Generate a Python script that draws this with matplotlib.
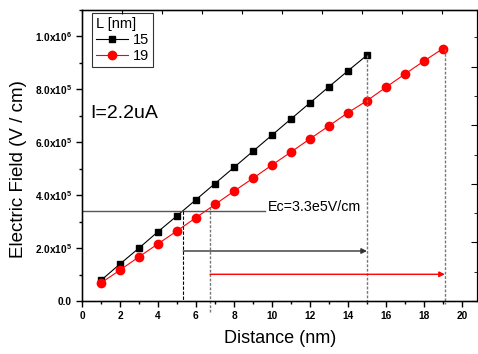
import matplotlib.pyplot as plt
import matplotlib.ticker as ticker
import numpy as np

plt.rcParams['font.family'] = ['Liberation Sans', 'DejaVu Sans']
plt.rcParams['mathtext.fontset'] = 'custom'
plt.rcParams['mathtext.rm'] = 'Liberation Sans:bold'
plt.rcParams['mathtext.default'] = 'rm'

# measured field vs distance, L = 15 nm
x15 = [1, 2, 3, 4, 5, 6, 7, 8, 9, 10, 11, 12, 13, 14, 15]
e15 = [0.078e6, 0.140e6, 0.200e6, 0.262e6, 0.322e6, 0.383e6, 0.444e6, 0.505e6,
       0.566e6, 0.627e6, 0.688e6, 0.749e6, 0.810e6, 0.870e6, 0.929e6]

# L = 19 nm
x19 = [1, 2, 3, 4, 5, 6, 7, 8, 9, 10, 11, 12, 13, 14, 15, 16, 17, 18, 19]
e19 = [0.068e6, 0.117e6, 0.167e6, 0.216e6, 0.265e6, 0.315e6, 0.365e6, 0.415e6,
       0.464e6, 0.514e6, 0.563e6, 0.613e6, 0.662e6, 0.712e6, 0.757e6, 0.808e6,
       0.858e6, 0.907e6, 0.954e6]

ec_level = 0.342e6     # Ec line
x_ec15 = 5.33          # crossing points
x_ec19 = 6.74
x_end15 = 15.0
x_end19 = 19.1

fig = plt.figure(figsize=(4.78, 3.54), dpi=100)
ax = fig.add_axes([82/478, 53/354, 395.5/478, 291/354])

ax.plot(x15, e15, color='k', lw=0.8, marker='s', ms=5, label='15')
ax.plot(x19, e19, color='r', lw=0.8, marker='o', ms=6, label='19')

# Ec line and text
ax.plot([0, 9.63], [ec_level, ec_level], color='#555555', lw=1)
ax.text(9.8, ec_level + 0.014e6, 'Ec=3.3e5V/cm', fontsize=10.3, va='center')

# drop lines
ax.plot([x_ec15, x_ec15], [ec_level, 0], color='k', ls=(0, (3, 1.5)), lw=0.8)
ax.plot([x_ec19, x_ec19], [0.356e6, -0.045e6], color='#777777', ls=(0, (2, 1.2)), lw=1, clip_on=False)
ax.plot([x_end15, x_end15], [e15[-1], -0.012e6], color='#777777', ls=(0, (2, 1.2)), lw=1, clip_on=False)
ax.plot([x_end19, x_end19], [e19[-1], -0.012e6], color='#777777', ls=(0, (2, 1.2)), lw=1, clip_on=False)

# arrows
ax.annotate('', xy=(x_end15, 0.189e6), xytext=(x_ec15, 0.189e6),
            arrowprops=dict(arrowstyle='-|>', color='#333333', lw=1, mutation_scale=8, shrinkA=0, shrinkB=0))
ax.annotate('', xy=(x_end19, 0.101e6), xytext=(x_ec19, 0.101e6),
            arrowprops=dict(arrowstyle='-|>', color='r', lw=1, mutation_scale=8, shrinkA=0, shrinkB=0))

ax.text(0.42, 0.71e6, 'I=2.2uA', fontsize=14, va='center')

ax.set_xlim(0, 20.82)
ax.set_ylim(0, 1.1e6)
ax.xaxis.set_major_locator(ticker.MultipleLocator(2))
ax.xaxis.set_minor_locator(ticker.MultipleLocator(1))
ax.yaxis.set_major_locator(ticker.MultipleLocator(0.2e6))
ax.yaxis.set_minor_locator(ticker.MultipleLocator(0.1e6))


def yfmt(v, pos):
    if v < 1:
        return '0.0'
    e = int(np.floor(np.log10(v)))
    return '%.1fx10$^{%d}$' % (v / 10**e, e)


ax.yaxis.set_major_formatter(ticker.FuncFormatter(yfmt))
ax.tick_params(which='major', direction='out', length=4, width=1, labelsize=7.3)
ax.tick_params(which='minor', direction='out', length=2.5, width=1)
for lab in ax.get_xticklabels() + ax.get_yticklabels():
    lab.set_fontweight('bold')
for s in ax.spines.values():
    s.set_linewidth(1)

# secondary axes ticks
axt = ax.twiny()
axt.set_xlim(0, 395.5 / 40)
axt.xaxis.set_major_locator(ticker.MultipleLocator(1))
axt.tick_params(axis='x', direction='in', length=3, labeltop=False)
axr = ax.twinx()
axr.set_ylim(0, 291 / 58.6)
axr.yaxis.set_major_locator(ticker.MultipleLocator(1))
axr.yaxis.set_minor_locator(ticker.MultipleLocator(0.5))
axr.tick_params(axis='y', which='major', direction='in', length=4, labelright=False)
axr.tick_params(axis='y', which='minor', direction='in', length=2)

ax.set_xlabel('Distance (nm)', fontsize=13, labelpad=6)
ax.set_ylabel('Electric Field (V / cm)', fontsize=13.5)
ax.yaxis.set_label_coords(-0.139, 0.454)

leg = ax.legend(title='L [nm]', loc='upper left', bbox_to_anchor=(0.025, 0.99),
                fontsize=10.5, title_fontsize=10.5, frameon=True, fancybox=False,
                edgecolor='k', handlelength=2.2, handletextpad=0.3,
                borderpad=0.3, labelspacing=0.12, borderaxespad=0)
leg._legend_box.align = 'left'
leg.get_frame().set_linewidth(0.8)

fig.savefig('out.png', dpi=100)
